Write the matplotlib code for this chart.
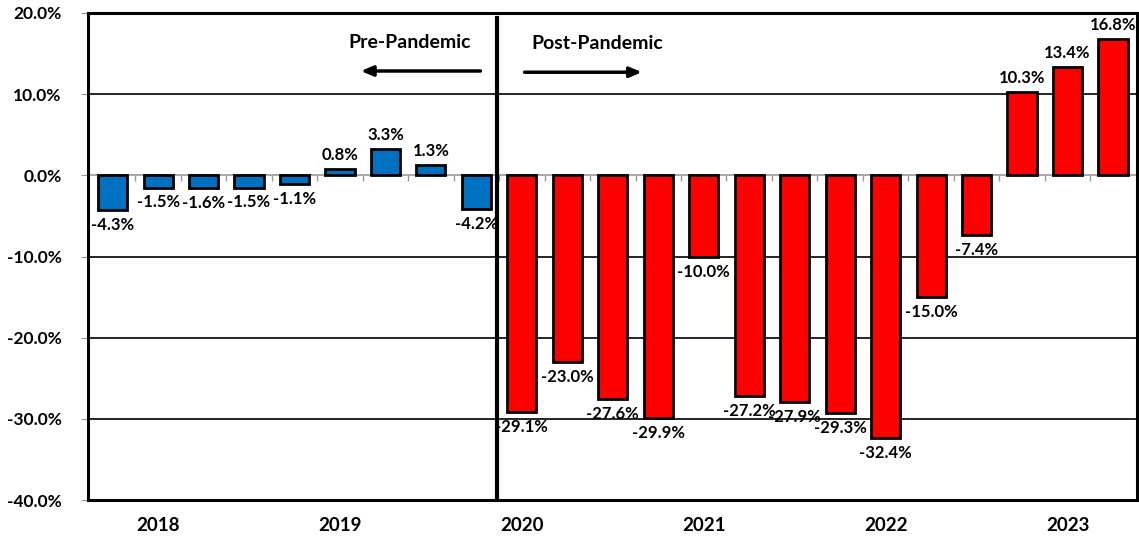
import numpy as np
import matplotlib.pyplot as plt

plt.rcParams['font.family'] = ['Lato', 'DejaVu Sans']
plt.rcParams['font.weight'] = 'bold'

# =========================
# data (quarterly % change)
# =========================
pre_values = [-4.3, -1.5, -1.6, -1.5, -1.1, 0.8, 3.3, 1.3, -4.2]
post_values = [-29.1, -23.0, -27.6, -29.9, -10.0, -27.2, -27.9, -29.3,
               -32.4, -15.0, -7.4, 10.3, 13.4, 16.8]
year_labels = ["2018", "2019", "2020", "2021", "2022", "2023"]
year_positions = [1, 5, 9, 13, 17, 21]
y_ticks = [20, 10, 0, -10, -20, -30, -40]

BLUE = "#0070C0"
RED = "#FF0000"


def add_labels(ax, xs, vals):
    for x, v in zip(xs, vals):
        if v >= 0:
            ax.annotate(f"{v:.1f}%", (x, v), xytext=(0, 4), textcoords="offset points",
                        ha="center", va="bottom", fontsize=12, fontweight="bold")
        else:
            ax.annotate(f"{v:.1f}%", (x, v), xytext=(0, -5), textcoords="offset points",
                        ha="center", va="top", fontsize=12, fontweight="bold")


fig = plt.figure(figsize=(11.39, 5.39), dpi=100)
ax = fig.add_axes([0.0773, 0.072, 0.921, 0.904])

n_pre = len(pre_values)
x_pre = np.arange(n_pre)
x_post = np.arange(n_pre, n_pre + len(post_values))

ax.bar(x_pre, pre_values, width=0.64, color=BLUE, edgecolor="black", linewidth=2, zorder=3)
ax.bar(x_post, post_values, width=0.64, color=RED, edgecolor="black", linewidth=2, zorder=3)

add_labels(ax, x_pre, pre_values)
add_labels(ax, x_post, post_values)

ax.set_xlim(-0.54, len(pre_values) + len(post_values) - 0.47)
ax.set_ylim(-40, 20)

# gridlines
for yv in y_ticks:
    if yv == 0:
        ax.axhline(yv, color="#999999", lw=1.2, zorder=2)
    elif -40 < yv < 20:
        ax.axhline(yv, color="black", lw=1.2, zorder=1)

# small category ticks on the zero line
ax.vlines(np.arange(0.5, len(pre_values) + len(post_values) - 1), -0.7, 0,
          color="#999999", lw=1, zorder=2)

# pandemic divider
ax.axvline(n_pre - 0.55, ymin=0.005, ymax=0.99, color="black", lw=3, zorder=4)

ax.annotate("", xy=(5.4, 12.85), xytext=(8.15, 12.85),
            arrowprops=dict(arrowstyle="-|>,head_length=0.7,head_width=0.3",
                            color="black", lw=2.5))
ax.annotate("", xy=(11.7, 12.7), xytext=(9.0, 12.7),
            arrowprops=dict(arrowstyle="-|>,head_length=0.7,head_width=0.3",
                            color="black", lw=2.5))
ax.text(6.54, 16.4, "Pre-Pandemic", ha="center", va="center", fontsize=14, fontweight="bold")
ax.text(10.65, 16.2, "Post-Pandemic", ha="center", va="center", fontsize=14, fontweight="bold")

ax.set_yticks(y_ticks)
ax.set_yticklabels([f"{v:.1f}%" for v in y_ticks], fontsize=12.5, fontweight="bold")
ax.tick_params(axis="y", length=5, color="#999999", pad=14)

ax.set_xticks(year_positions)
ax.set_xticklabels(year_labels, fontsize=13.5, fontweight="bold")
ax.tick_params(axis="x", length=0, pad=12)

for s in ax.spines.values():
    s.set_linewidth(2.2)
    s.set_color("black")

fig.savefig("out.png", dpi=100)
